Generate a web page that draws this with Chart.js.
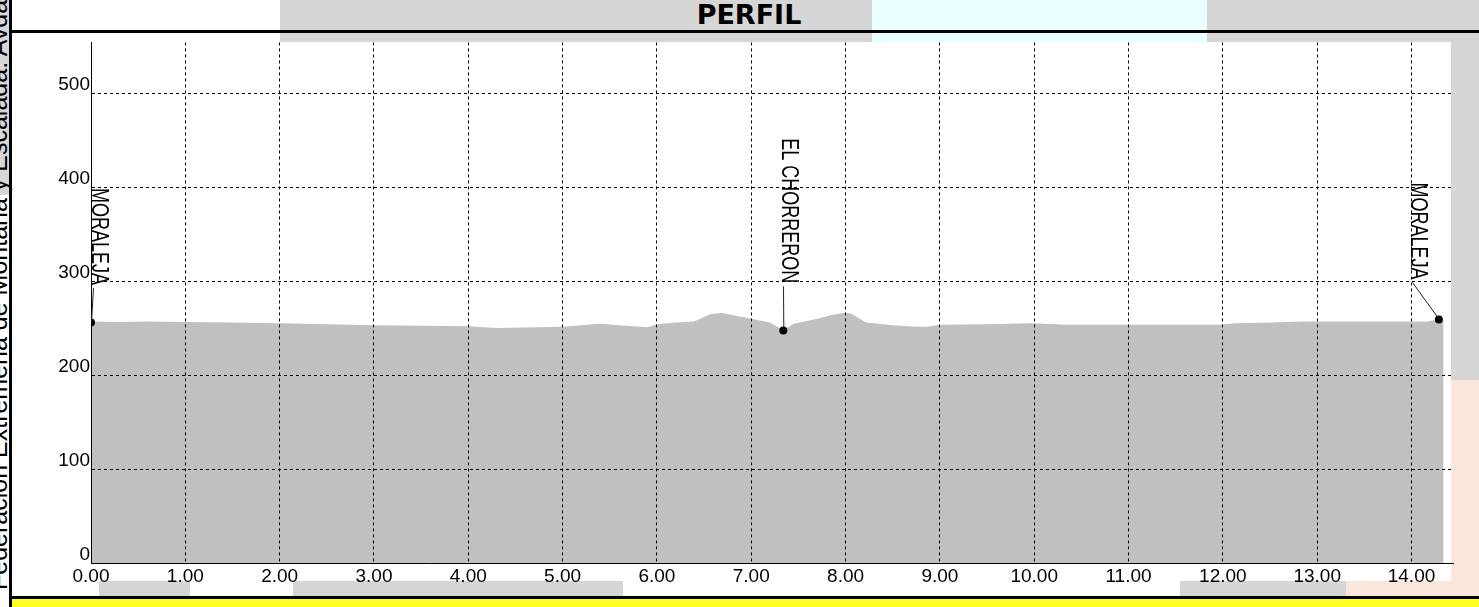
<!DOCTYPE html>
<html>
<head>
<meta charset="utf-8">
<script src="https://cdn.jsdelivr.net/npm/chart.js@4.4.0/dist/chart.umd.min.js"></script>
<style>
  html, body { margin: 0; padding: 0; background: #fff; }
  body { width: 1479px; height: 607px; position: relative; overflow: hidden; font-family: "Liberation Sans", Arial, sans-serif; }
  .blk { position: absolute; }
  #chartBox { position: absolute; left: 13px; top: 30px; width: 1444px; height: 563px; }
  #title { position: absolute; left: 549px; top: 1px; width: 400px; text-align: center; font: bold 27px/27px "DejaVu Sans", Verdana, sans-serif; color: #000; }
  #side { position: absolute; left: 0; top: 0; white-space: nowrap; font: 25px/25px "Liberation Sans", Arial, sans-serif; color: #000;
          transform-origin: 0 0; transform: translate(-14px, 590px) rotate(-90deg); }
</style>
</head>
<body>
<!-- background pieces around the plot -->
<div class="blk" style="left:0;top:0;width:10px;height:195px;background:#d6d6d6"></div>
<div class="blk" style="left:280px;top:0;width:592px;height:42px;background:#d6d6d6"></div>
<div class="blk" style="left:872px;top:0;width:335px;height:42px;background:#eaffff"></div>
<div class="blk" style="left:1207px;top:0;width:272px;height:42px;background:#d6d6d6"></div>
<div class="blk" style="left:1451px;top:42px;width:28px;height:338px;background:#d6d6d6"></div>
<div class="blk" style="left:1451px;top:380px;width:28px;height:216px;background:#fbe6dc"></div>
<div class="blk" style="left:99px;top:581px;width:91px;height:15px;background:#d6d6d6"></div>
<div class="blk" style="left:293px;top:581px;width:330px;height:15px;background:#d6d6d6"></div>
<div class="blk" style="left:1180px;top:581px;width:166px;height:15px;background:#d6d6d6"></div>
<div class="blk" style="left:1346px;top:581px;width:105px;height:15px;background:#fbe6dc"></div>

<div id="side">Federación Extremeña de Montaña y Escalada. Avda</div>

<div class="blk" style="left:9px;top:0;width:3px;height:607px;background:#000"></div>
<div class="blk" style="left:12px;top:30px;width:1467px;height:3px;background:#000"></div>
<div class="blk" style="left:9px;top:596px;width:1470px;height:3px;background:#000"></div>
<div class="blk" style="left:12px;top:599px;width:1467px;height:8px;background:#ffff22"></div>

<div id="title">PERFIL</div>

<div id="chartBox"><canvas id="perfil" width="1444" height="563"></canvas></div>

<script>
// profile: distance (km) and elevation (m)
const distKm = [0.00, 0.02, 0.30, 0.60, 1.00, 1.50, 2.00, 2.50, 3.00, 3.50, 4.00, 4.30, 4.60, 5.00,
                5.20, 5.40, 5.60, 5.90, 6.00, 6.20, 6.39, 6.46, 6.57, 6.70, 6.80, 7.00, 7.20, 7.30,
                7.34, 7.38, 7.45, 7.70, 7.85, 7.98, 8.06, 8.15, 8.22, 8.30, 8.50, 8.75, 8.87, 9.00,
                9.50, 9.97, 10.34, 10.90, 11.50, 11.97, 12.12, 12.50, 12.85, 13.50, 14.16, 14.29, 14.34];
const elevM = [256, 257, 256.5, 257, 256.5, 256, 255, 254, 253, 252.5, 252, 250, 250.5, 251.5,
               253, 254.5, 253, 251, 254, 256, 257, 260, 265, 266, 264, 260, 256, 250,
               247.5, 250, 254.5, 260, 264, 266, 265.5, 260, 256, 255, 253, 251.5, 251.5, 253.5,
               254, 255, 253.5, 253.5, 253.5, 253.5, 255, 256, 257, 257, 257, 259, 258.5];

// waypoints
const wptName = ['MORALEJA', 'EL CHORRERON', 'MORALEJA'];
const wptKm = [0, 7.34, 14.29];
const wptElev = [256, 247.5, 259];
const wptLabelKm = [0.01, 7.33, 13.99];
const wptLabelTop = [399, 452, 405];

const xMax = 14.44;
const yMax = 554;

const profile = distKm.map((d, i) => ({ x: d, y: elevM[i] }));
const waypoints = wptKm.map((d, i) => ({ x: d, y: wptElev[i] }));

const waypointLabels = {
    id: 'waypointLabels',
    afterDraw(chart) {
        const { ctx, scales: { x, y } } = chart;
        ctx.save();
        ctx.font = '18px "Liberation Sans", Arial, sans-serif';
        ctx.fillStyle = '#000';
        ctx.strokeStyle = '#222';
        ctx.lineWidth = 1;
        wptName.forEach((name, i) => {
            const lx = Math.round(x.getPixelForValue(wptLabelKm[i]));
            const ly = y.getPixelForValue(wptLabelTop[i]);
            const len = ctx.measureText(name).width;
            ctx.save();
            ctx.translate(lx, ly);
            ctx.rotate(Math.PI / 2);
            ctx.scale(1, 1.3);
            ctx.textBaseline = 'alphabetic';
            ctx.fillText(name, 0, 0);
            ctx.restore();
            // leader line from the end of the label to the point
            ctx.beginPath();
            ctx.moveTo(lx + 1.5, ly + len + 3);
            ctx.lineTo(x.getPixelForValue(wptKm[i]) + 0.5, y.getPixelForValue(wptElev[i]));
            ctx.stroke();
        });
        ctx.restore();
    }
};

const tickFont = { family: '"Liberation Sans", Arial, sans-serif', size: 19 };

new Chart(document.getElementById('perfil'), {
    type: 'line',
    data: {
        datasets: [{
            data: waypoints,
            showLine: false,
            pointRadius: 4,
            pointBackgroundColor: '#000',
            pointBorderColor: '#000',
            pointBorderWidth: 0,
            order: 0
        }, {
            data: profile,
            fill: 'origin',
            backgroundColor: '#c0c0c0',
            borderWidth: 0,
            pointRadius: 0,
            tension: 0,
            order: 1
        }]
    },
    options: {
        responsive: false,
        devicePixelRatio: 1,
        animation: false,
        layout: { padding: 0 },
        plugins: {
            legend: { display: false },
            tooltip: { enabled: false }
        },
        scales: {
            x: {
                type: 'linear',
                min: 0,
                max: xMax,
                afterFit: s => { s.height = 30; },
                grid: { color: '#000', lineWidth: 1, drawTicks: false, z: 1 },
                border: { display: true, color: '#000', width: 1, dash: [3, 3], z: 1 },
                ticks: {
                    stepSize: 1,
                    includeBounds: false,
                    autoSkip: false,
                    maxRotation: 0,
                    padding: 2,
                    color: '#000',
                    font: tickFont,
                    callback: v => v.toFixed(2)
                }
            },
            y: {
                type: 'linear',
                min: 0,
                max: yMax,
                afterFit: s => { s.width = 78; },
                grid: { color: '#000', lineWidth: 1, drawTicks: false, z: 1 },
                border: { display: true, color: '#000', width: 1, dash: [3, 3], z: 1 },
                ticks: {
                    stepSize: 100,
                    includeBounds: false,
                    padding: 1,
                    labelOffset: -8,
                    color: '#000',
                    font: tickFont
                }
            }
        }
    },
    plugins: [waypointLabels]
});
</script>
</body>
</html>
